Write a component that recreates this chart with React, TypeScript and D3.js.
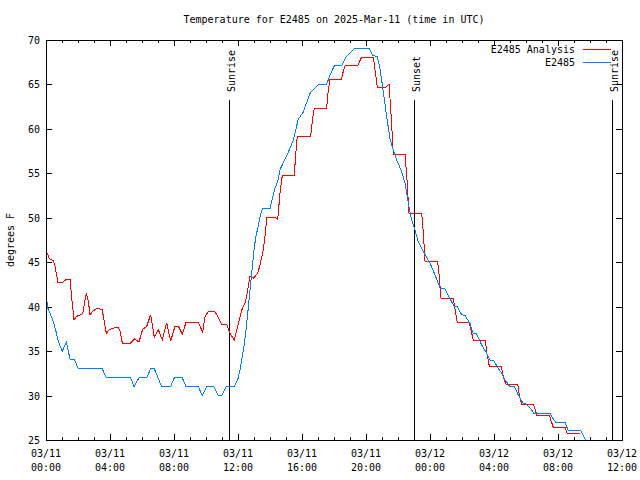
import React from "react";
import * as d3 from "d3";

const TITLE = "Temperature for E2485 on 2025-Mar-11 (time in UTC)";
const Y_LABEL = "degrees F";
const SERIES_NAMES = ["E2485 Analysis", "E2485"];
const SERIES_COLORS = ["#ff0000", "#0080ff"];

// hours since 03/11 00:00 UTC
const analysisHours = [
  0.0, 0.2, 0.45, 0.55, 0.75, 1.0, 1.3, 1.5, 1.58, 1.75, 1.9, 2.17, 2.3, 2.42, 2.52, 2.65, 2.75, 2.96, 3.2, 3.5,
  3.63, 3.77, 3.98, 4.25, 4.5, 4.62, 4.77, 5.29, 5.54, 5.81, 6.04, 6.29, 6.54, 6.77, 7.02, 7.27, 7.54, 7.79, 8.06,
  8.27, 8.52, 8.75, 9.52, 9.79, 9.94, 10.15, 10.56, 10.98, 11.29, 11.5, 11.77, 12.02, 12.23, 12.48, 12.69, 12.75,
  12.96, 13.23, 13.375, 13.58, 13.73, 13.79, 14.31, 14.48, 14.625, 14.77, 15.52, 15.6, 15.7, 16.54, 16.65, 16.77,
  17.54, 17.62, 17.75, 18.48, 18.58, 18.69, 19.48, 19.6, 19.73, 20.46, 20.55, 20.71, 21.25, 21.44, 21.55, 21.71,
  22.44, 22.55, 22.69, 23.48, 23.58, 23.69, 24.48, 24.58, 24.69, 25.46, 25.58, 25.71, 26.46, 26.58, 26.71, 27.46,
  27.55, 27.71, 28.46, 28.58, 28.75, 29.48, 29.58, 29.73, 30.46, 30.58, 30.67, 31.46, 31.55, 31.71, 32.44, 32.58,
  33.4,
];
const analysisTemps = [
  46.4, 45.4, 45.2, 44.7, 42.7, 42.7, 43.1, 43.1, 41.5, 38.5, 38.9, 39.1, 39.2, 40.6, 41.5, 40.6, 39.1, 39.55, 39.8,
  39.7, 38.5, 37.0, 37.45, 37.6, 37.7, 37.3, 35.9, 35.9, 36.4, 36.0, 37.45, 37.75, 39.1, 36.55, 37.4, 36.25, 38.2,
  36.1, 37.8, 37.8, 36.9, 38.25, 38.25, 37.1, 38.9, 39.45, 39.45, 38.05, 38.05, 37.0, 36.25, 38.1, 39.6, 40.6, 42.8,
  43.45, 43.2, 43.75, 44.7, 46.4, 48.6, 50.05, 50.05, 49.8, 52.75, 54.8, 54.8, 57.0, 59.1, 59.1, 61.0, 62.3, 62.3,
  64.0, 65.6, 65.6, 66.5, 67.1, 67.1, 67.6, 68.05, 68.05, 66.8, 64.7, 64.7, 65.05, 62.1, 57.1, 57.1, 54.6, 50.5,
  50.5, 48.45, 45.05, 45.05, 43.4, 40.9, 40.9, 39.6, 38.2, 38.2, 37.2, 36.25, 36.25, 34.75, 33.3, 33.3, 32.1, 31.3,
  31.3, 30.05, 29.0, 29.0, 28.4, 27.8, 27.8, 27.25, 26.4, 26.4, 25.75, 25.75,
];

const obsHours = [
  0.0, 0.04, 0.125, 0.29, 0.46, 0.6, 0.75, 0.875, 1.02, 1.27, 1.5, 1.79, 2.02, 3.52, 3.77, 5.29, 5.5, 5.81, 6.29,
  6.54, 6.77, 7.23, 7.79, 8.02, 8.52, 8.75, 9.52, 9.77, 10.04, 10.5, 10.77, 10.98, 11.25, 11.77, 11.98, 12.125,
  12.27, 12.4, 12.5, 12.6, 12.71, 12.8, 12.92, 13.0, 13.1, 13.23, 13.375, 13.52, 14.0, 14.1, 14.31, 14.48, 14.625,
  14.83, 15.15, 15.46, 15.77, 16.08, 16.5, 17.02, 17.54, 17.75, 18.02, 18.48, 18.75, 19.25, 20.2, 20.42, 20.71,
  20.85, 20.98, 21.125, 21.29, 21.5, 21.71, 21.92, 22.23, 22.44, 22.65, 22.85, 23.06, 23.27, 23.58, 24.0, 24.31,
  24.625, 24.94, 25.25, 25.5, 25.7, 25.98, 26.19, 26.5, 26.7, 26.9, 27.23, 27.54, 27.75, 27.96, 28.27, 28.48, 28.69,
  29.0, 29.27, 29.52, 29.79, 30.04, 30.35, 30.5, 31.5, 31.67, 31.875, 32.44, 32.64, 33.42, 33.69, 33.85,
];
const obsTemps = [
  41.0, 40.75, 39.8, 39.1, 38.3, 37.4, 36.25, 35.6, 35.0, 36.0, 34.1, 34.0, 33.0, 33.0, 32.0, 32.0, 31.0, 32.0, 32.0,
  33.0, 33.0, 31.0, 31.0, 32.0, 32.0, 31.0, 31.0, 30.0, 31.0, 31.0, 30.0, 30.0, 31.0, 31.0, 31.75, 32.9, 34.4, 35.9,
  37.4, 39.1, 41.1, 42.8, 44.9, 46.4, 47.7, 48.8, 50.1, 51.0, 51.0, 51.8, 53.3, 54.05, 55.4, 56.2, 57.4, 58.75,
  61.1, 61.9, 64.0, 65.0, 65.0, 66.06, 67.1, 67.1, 68.1, 69.0, 69.0, 68.3, 68.1, 67.0, 65.5, 63.6, 61.4, 58.9, 57.6,
  56.5, 55.2, 53.9, 51.6, 49.75, 48.6, 47.3, 46.2, 44.9, 43.6, 42.1, 42.0, 40.9, 40.05, 40.0, 39.1, 39.0, 38.1, 37.0,
  37.0, 35.7, 34.75, 34.0, 34.0, 33.05, 32.5, 31.75, 31.0, 31.0, 30.05, 29.2, 29.0, 28.4, 28.0, 28.0, 27.45, 26.95,
  26.95, 26.05, 26.05, 25.1, 24.5,
];

const sunEventNames = ["Sunrise", "Sunset", "Sunrise"];
const sunEventHours = [11.46, 23.02, 35.39];

const xTickHours = [0, 4, 8, 12, 16, 20, 24, 28, 32, 36];
const xTickDates = ["03/11", "03/11", "03/11", "03/11", "03/11", "03/11", "03/12", "03/12", "03/12", "03/12"];
const xTickTimes = ["00:00", "04:00", "08:00", "12:00", "16:00", "20:00", "00:00", "04:00", "08:00", "12:00"];
const yTicks = [25, 30, 35, 40, 45, 50, 55, 60, 65, 70];

const W = 640;
const H = 480;
const M = { left: 46, right: 622, top: 40, bottom: 440 };
const FONT = "'DejaVu Sans Mono', monospace";

export default function App() {
  const x = d3.scaleLinear().domain([0, 36]).range([M.left, M.right]);
  const y = d3.scaleLinear().domain([25, 70]).range([M.bottom, M.top]);
  const line = d3
    .line<[number, number]>()
    .x((d) => x(d[0]))
    .y((d) => y(d[1]));
  const series = [
    d3.zip(analysisHours, analysisTemps) as [number, number][],
    d3.zip(obsHours, obsTemps) as [number, number][],
  ];
  const minorHours = d3.range(0, 37, 1);

  return (
    <svg
      width={W}
      height={H}
      style={{ position: "absolute", left: 0, top: 0, background: "#fff" }}
      fontFamily={FONT}
      fontSize={10}
    >
      <defs>
        <clipPath id="plot">
          <rect x={M.left} y={M.top} width={M.right - M.left} height={M.bottom - M.top} />
        </clipPath>
      </defs>
      <rect x={0} y={0} width={W} height={H} fill="#fff" />
      <text x={(M.left + M.right) / 2} y={23} textAnchor="middle" fill="#000">
        {TITLE}
      </text>
      <text transform={`translate(14,240) rotate(-90)`} textAnchor="middle" fill="#000">
        {Y_LABEL}
      </text>

      {/* ticks */}
      <g stroke="#000" strokeWidth={1} shapeRendering="crispEdges">
        {minorHours.map((h) => {
          const len = h % 4 === 0 ? 6 : 3;
          const xx = Math.round(x(h)) + 0.5;
          return (
            <g key={"xt" + h}>
              <line x1={xx} x2={xx} y1={M.bottom} y2={M.bottom - len} />
              <line x1={xx} x2={xx} y1={M.top} y2={M.top + len} />
            </g>
          );
        })}
        {yTicks.map((t) => {
          const yy = Math.round(y(t)) + 0.5;
          return (
            <g key={"yt" + t}>
              <line x1={M.left} x2={M.left + 6} y1={yy} y2={yy} />
              <line x1={M.right} x2={M.right - 6} y1={yy} y2={yy} />
            </g>
          );
        })}
      </g>

      {yTicks.map((t) => (
        <text key={"yl" + t} x={40} y={y(t) + 4} textAnchor="end" fill="#000">
          {t}
        </text>
      ))}
      {xTickHours.map((h, i) => (
        <g key={"xl" + h}>
          <text x={x(h)} y={457} textAnchor="middle" fill="#000">
            {xTickDates[i]}
          </text>
          <text x={x(h)} y={471} textAnchor="middle" fill="#000">
            {xTickTimes[i]}
          </text>
        </g>
      ))}

      {/* sun events */}
      {sunEventHours.map((h, i) => {
        const xx = Math.round(x(h)) + 0.5;
        return (
          <g key={"sun" + i}>
            <line x1={xx} x2={xx} y1={100} y2={M.bottom} stroke="#000" shapeRendering="crispEdges" />
            <text transform={`translate(${xx + 5},92) rotate(-90)`} textAnchor="start" fill="#000">
              {sunEventNames[i]}
            </text>
          </g>
        );
      })}

      {/* series */}
      <g clipPath="url(#plot)">
        {series.map((s, i) => (
          <path
            key={"s" + i}
            d={line(s) || ""}
            fill="none"
            stroke={SERIES_COLORS[i]}
            strokeWidth={1}
            shapeRendering="crispEdges"
          />
        ))}
      </g>

      {/* legend */}
      {SERIES_NAMES.map((n, i) => (
        <g key={"lg" + i}>
          <text x={575} y={53 + i * 13} textAnchor="end" fill="#000">
            {n}
          </text>
          <line
            x1={583}
            x2={611}
            y1={49.5 + i * 13}
            y2={49.5 + i * 13}
            stroke={SERIES_COLORS[i]}
            shapeRendering="crispEdges"
          />
        </g>
      ))}

      {/* frame */}
      <rect
        x={M.left + 0.5}
        y={M.top + 0.5}
        width={M.right - M.left}
        height={M.bottom - M.top}
        fill="none"
        stroke="#000"
        shapeRendering="crispEdges"
      />
    </svg>
  );
}
